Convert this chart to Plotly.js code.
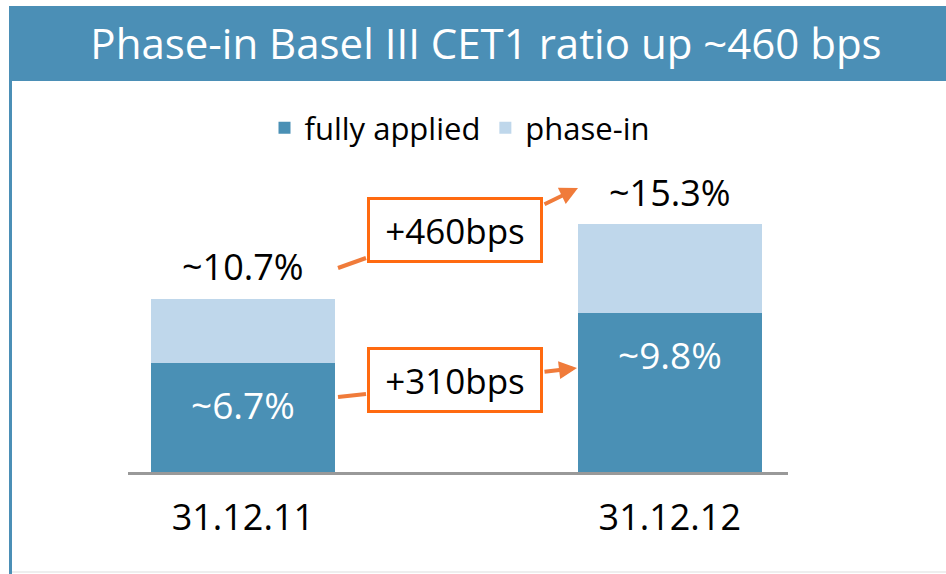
<!DOCTYPE html>
<html>
<head>
<meta charset="utf-8">
<script src="https://cdn.plot.ly/plotly-3.0.1.min.js"></script>
<style>
  html, body { margin: 0; padding: 0; background: #fff; }
  #chart { width: 946px; height: 574px; }
</style>
</head>
<body>
<div id="chart"></div>
<script>
const dates = ['31.12.11', '31.12.12']
const fullyApplied = [6.7, 9.8]
const phaseIn = [4.0, 5.5]
const totals = [10.7, 15.3]
const fullyLabels = ['~6.7%', '~9.8%']
const totalLabels = ['~10.7%', '~15.3%']

const blue = '#4a90b5'
const lightBlue = '#bfd7eb'
const orange = '#ff6a10'
const arrowOrange = '#f07b3a'
const font = 'Open Sans, sans-serif'

// plot area runs from x=128..788, y=100..472 (pixels)
const px = x => (x - 128) / 660
const py = y => (472 - y) / 372

const traces = [
  {
    name: 'fully applied',
    type: 'bar',
    x: dates,
    y: fullyApplied,
    marker: {color: blue},
    hoverinfo: 'skip'
  },
  {
    name: 'phase-in',
    type: 'bar',
    x: dates,
    y: phaseIn,
    marker: {color: lightBlue},
    hoverinfo: 'skip'
  }
]

const annotations = []
dates.forEach((d, i) => {
  annotations.push({
    x: d, y: totals[i], xref: 'x', yref: 'y',
    text: totalLabels[i], showarrow: false,
    yshift: 32, font: {family: font, size: 36, color: '#000'}
  })
  annotations.push({
    x: d, y: fullyApplied[i], xref: 'x', yref: 'y',
    text: fullyLabels[i], showarrow: false,
    yshift: -41, font: {family: font, size: 37, color: '#fff'}
  })
})

// change boxes
const boxes = [
  {text: '+460bps', cx: 454.5, cy: 230},
  {text: '+310bps', cx: 454.5, cy: 380}
]
boxes.forEach(b => {
  annotations.push({
    xref: 'paper', yref: 'paper', x: px(b.cx), y: py(b.cy),
    xanchor: 'center', yanchor: 'middle',
    text: b.text, showarrow: false,
    width: 170, height: 60, borderpad: 0,
    bordercolor: orange, borderwidth: 3, bgcolor: '#fff',
    font: {family: font, size: 35, color: '#000'}
  })
})

// arrows out of the boxes
const arrows = [
  {hx: 578, hy: 188, tx: 543, ty: 205},
  {hx: 577, hy: 368, tx: 543, ty: 372}
]
arrows.forEach(a => {
  annotations.push({
    xref: 'paper', yref: 'paper', x: px(a.hx), y: py(a.hy),
    ax: a.tx - a.hx, ay: a.ty - a.hy,
    text: '', showarrow: true, arrowhead: 2, arrowsize: 0.9,
    arrowwidth: 4, arrowcolor: arrowOrange, standoff: 0
  })
})

const shapes = [
  // header bar
  {type: 'rect', xref: 'paper', yref: 'paper', layer: 'below',
    x0: px(9), x1: px(946), y0: py(81), y1: py(6),
    fillcolor: '#4b8fb6', line: {width: 0}},
  // left frame line
  {type: 'line', xref: 'paper', yref: 'paper',
    x0: px(10.5), x1: px(10.5), y0: py(81), y1: py(574),
    line: {color: '#4b8fb6', width: 3}},
  // bottom frame line
  {type: 'line', xref: 'paper', yref: 'paper',
    x0: px(12), x1: px(946), y0: py(572), y1: py(572),
    line: {color: '#eeeeee', width: 2}},
  // lines into the boxes
  {type: 'line', xref: 'paper', yref: 'paper',
    x0: px(338), x1: px(366), y0: py(268), y1: py(258),
    line: {color: arrowOrange, width: 4}},
  {type: 'line', xref: 'paper', yref: 'paper',
    x0: px(338), x1: px(366), y0: py(397), y1: py(394),
    line: {color: arrowOrange, width: 4}}
]

const layout = {
  width: 946,
  height: 574,
  margin: {l: 128, r: 158, t: 100, b: 102},
  paper_bgcolor: '#fff',
  plot_bgcolor: '#fff',
  barmode: 'stack',
  bargap: 0.57,
  showlegend: true,
  title: {
    text: 'Phase-in Basel III CET1 ratio up ~460 bps',
    x: 486 / 946, y: 1 - 44 / 574,
    xanchor: 'center', yanchor: 'middle',
    font: {family: font, size: 42, color: '#fff'}
  },
  legend: {
    orientation: 'h',
    x: px(460), y: py(128),
    xanchor: 'center', yanchor: 'middle',
    font: {family: font, size: 31, color: '#000'},
    traceorder: 'normal'
  },
  xaxis: {
    range: [-0.269, 1.277],
    showline: true, linecolor: '#999', linewidth: 3,
    showgrid: false, zeroline: false, ticks: '',
    ticklabelstandoff: 12,
    tickfont: {family: font, size: 36, color: '#000'}
  },
  yaxis: {
    range: [0, 22.96],
    visible: false, showgrid: false, zeroline: false
  },
  annotations: annotations,
  shapes: shapes
}

Plotly.newPlot('chart', traces, layout, {displayModeBar: false, staticPlot: true})
</script>
</body>
</html>
